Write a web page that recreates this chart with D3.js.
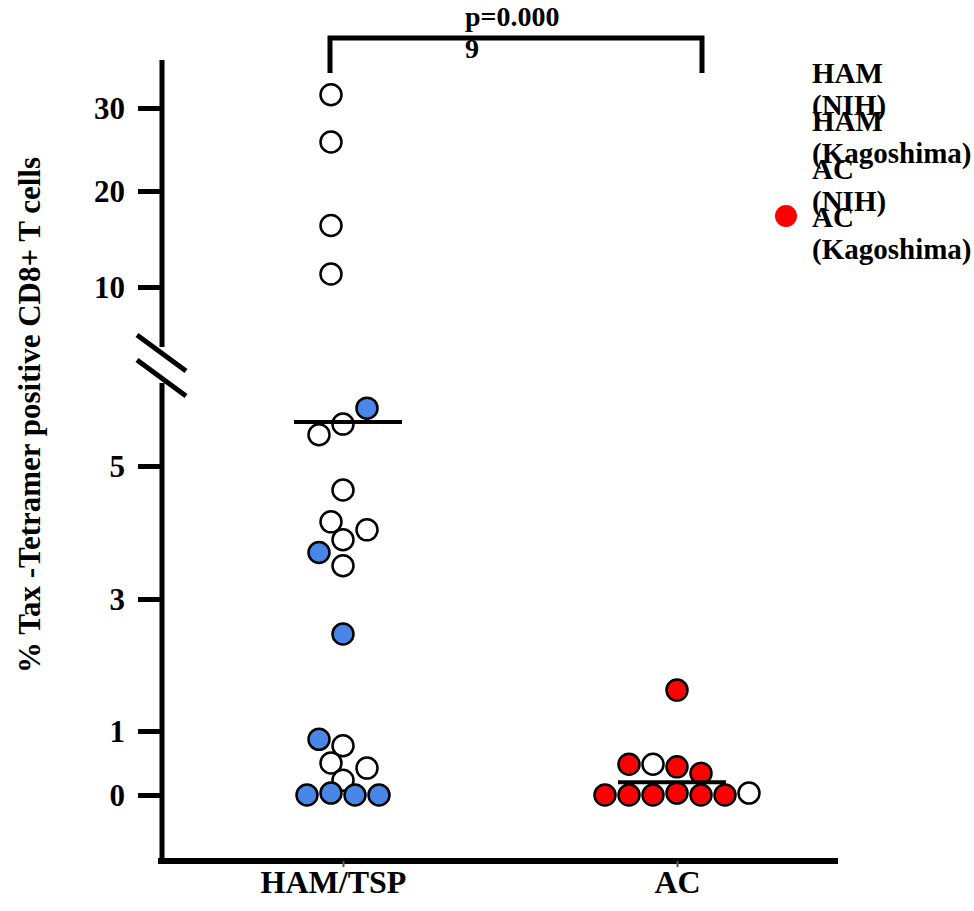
<!DOCTYPE html>
<html lang="en">
<head>
    <meta charset="UTF-8">
    <title>Tax-Tetramer positive CD8+ T cells</title>
    <script src="https://d3js.org/d3.v7.min.js"></script>
    <style>
        body { margin: 0; background: #fff; }
        text { font-family: "Liberation Serif", "Times New Roman", serif; font-weight: bold; fill: #000; }
    </style>
</head>
<body>
<svg width="974" height="911"></svg>
<script>
    // groups and cohorts
    var categories = ["HAM/TSP", "AC"];
    var cohorts = ["HAM (NIH)", "HAM (Kagoshima)", "AC (NIH)", "AC (Kagoshima)"];
    var cohortColours = ["#ffffff", "#4a86e8", "#ffffff", "#ff0000"];
    var legendColours = ["#ffffff", "#ffffff", "#ffffff", "#ff0000"]; // only the last key dot shows in the original

    // % tetramer+ values, with swarm column (-/+ half dot steps)
    var hamNihValues = [31.6, 25.9, 16.4, 11.35, 5.63, 5.47, 4.64, 4.16, 4.04, 3.89, 3.50, 0.77, 0.50, 0.42, 0.23];
    var hamNihCols   = [-1, -1, -1, -1, 0, -2, 0, -1, 2, 0, 0, 0, -1, 2, 0];
    var hamKagoValues = [5.87, 3.70, 2.47, 0.87, 0, 0.03, 0, 0];
    var hamKagoCols   = [2, -2, 0, -2, -3, -1, 1, 3];
    var acNihValues = [0.48, 0.03];
    var acNihCols   = [-2, 6];
    var acKagoValues = [1.62, 0.48, 0.44, 0.34, 0, 0, 0, 0.03, 0, 0];
    var acKagoCols   = [0, -4, 0, 2, -6, -4, -2, 0, 2, 4];
    var medians = [5.66, 0.2];

    var lowTicks = [0, 1, 3, 5];
    var highTicks = [10, 20, 30];
    var pLines = ["p=0.000", "9"];

    var svg = d3.select("svg");

    // broken y axis: two pieces, each drawn to the original tick spacing
    var yLow = d3.scaleLinear().domain([0, 1, 3, 5]).range([795, 731, 599, 466]);
    var yHigh = d3.scaleLinear().domain([10, 20, 30]).range([287, 191, 108]);
    function y(v) { return v >= 8 ? yHigh(v) : yLow(v); }

    var x = d3.scalePoint().domain(categories).range([343, 677]);
    var col = d3.scaleLinear().domain([0, 1]).range([0, 12]);
    var colour = d3.scaleOrdinal().domain(cohorts).range(cohortColours);
    var legColour = d3.scaleOrdinal().domain(cohorts).range(legendColours);

    function rows(group, cohort, vals, cols) {
        return vals.map(function (v, i) { return {group: group, cohort: cohort, value: v, col: cols[i]}; });
    }
    var points = [].concat(
        rows("HAM/TSP", cohorts[0], hamNihValues, hamNihCols),
        rows("AC", cohorts[2], acNihValues, acNihCols),
        rows("HAM/TSP", cohorts[1], hamKagoValues, hamKagoCols),
        rows("AC", cohorts[3], acKagoValues, acKagoCols)
    );

    // y axis lines + break
    var axisX = 162;
    svg.append("line").attr("x1", axisX).attr("x2", axisX).attr("y1", 60).attr("y2", 347)
        .attr("stroke", "#000").attr("stroke-width", 5);
    svg.append("line").attr("x1", axisX).attr("x2", axisX).attr("y1", 383).attr("y2", 864)
        .attr("stroke", "#000").attr("stroke-width", 5);
    svg.selectAll(".brk").data([335, 360]).enter().append("line")
        .attr("class", "brk")
        .attr("x1", 137).attr("y1", function (d) { return d; })
        .attr("x2", 186).attr("y2", function (d) { return d + 36; })
        .attr("stroke", "#000").attr("stroke-width", 5);

    function styleAxis(g) {
        g.select(".domain").remove();
        g.selectAll(".tick line").attr("stroke", "#000").attr("stroke-width", 5);
        g.selectAll(".tick text").style("font-size", "31px").attr("dy", "0.34em");
    }
    svg.append("g").attr("transform", "translate(" + axisX + ",0)")
        .call(d3.axisLeft(yLow).tickValues(lowTicks).tickSize(24).tickPadding(13).tickFormat(d3.format("d")))
        .call(styleAxis);
    svg.append("g").attr("transform", "translate(" + axisX + ",0)")
        .call(d3.axisLeft(yHigh).tickValues(highTicks).tickSize(24).tickPadding(13).tickFormat(d3.format("d")))
        .call(styleAxis);

    // x axis
    svg.append("line").attr("x1", 158).attr("x2", 838).attr("y1", 861).attr("y2", 861)
        .attr("stroke", "#000").attr("stroke-width", 6);
    var xg = svg.append("g").attr("transform", "translate(0,861)")
        .call(d3.axisBottom(x).tickSize(6).tickPadding(3).tickSizeOuter(0));
    xg.select(".domain").remove();
    xg.selectAll(".tick line").attr("stroke", "#555").attr("stroke-width", 2);
    xg.selectAll(".tick text").style("font-size", "32px").attr("dx", function (d, i) { return i === 0 ? -10 : 0; });

    // y label
    svg.append("text")
        .attr("transform", "translate(40,415) rotate(-90)")
        .attr("text-anchor", "middle")
        .style("font-size", "31px")
        .text("% Tax -Tetramer positive CD8+ T cells");

    // dots
    svg.selectAll("circle.pt").data(points).enter().append("circle")
        .attr("class", "pt")
        .attr("cx", function (d) { return x(d.group) + col(d.col); })
        .attr("cy", function (d) { return y(d.value); })
        .attr("r", 10.5)
        .attr("fill", function (d) { return colour(d.cohort); })
        .attr("stroke", "#000")
        .attr("stroke-width", 2.5);

    // medians
    svg.selectAll(".median").data(medians).enter().append("line")
        .attr("class", "median")
        .attr("x1", function (d, i) { return x(categories[i]) - (i === 0 ? 49 : 59); })
        .attr("x2", function (d, i) { return x(categories[i]) + (i === 0 ? 59 : 49); })
        .attr("y1", function (d) { return y(d); })
        .attr("y2", function (d) { return y(d); })
        .attr("stroke", "#000").attr("stroke-width", 4);

    // significance bracket
    svg.append("path")
        .attr("d", "M" + 330 + ",73V38H" + 702 + "V73")
        .attr("fill", "none").attr("stroke", "#000").attr("stroke-width", 5);
    svg.selectAll(".pval").data(pLines).enter().append("text")
        .attr("class", "pval")
        .attr("x", 465).attr("y", function (d, i) { return 26 + i * 32; })
        .style("font-size", "28px")
        .text(function (d) { return d; });

    // legend (labels wrap onto two lines and overlap, as in the original)
    var leg = svg.selectAll(".leg").data(cohorts).enter().append("g")
        .attr("class", "leg")
        .attr("transform", function (d, i) { return "translate(812," + (83 + i * 48) + ")"; });
    leg.append("circle").attr("cx", -26).attr("cy", -11).attr("r", 11)
        .attr("fill", function (d) { return legColour(d); });
    leg.append("text").style("font-size", "29px").text(function (d) { return d.split(" ")[0]; });
    leg.append("text").attr("y", 32).style("font-size", "29px").text(function (d) { return d.split(" ")[1]; });
</script>
</body>
</html>
